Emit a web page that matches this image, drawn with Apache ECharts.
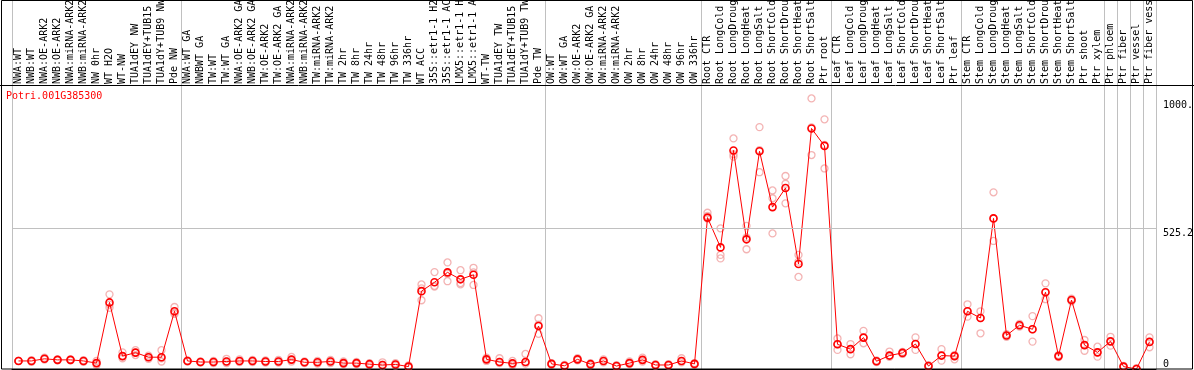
<!DOCTYPE html>
<html><head><meta charset="utf-8">
<script src="https://cdn.jsdelivr.net/npm/echarts@6/dist/echarts.min.js"></script>
<style>html,body{margin:0;padding:0;background:#fff}#c{width:1194px;height:370px}</style>
</head><body><div id="c"></div>
<script>
const chartTitle = 'Potri.001G385300';
const categories = [
 'NWA:WT','NWB:WT','NWA:OE-ARK2','NWB:OE-ARK2','NWA:miRNA-ARK2','NWB:miRNA-ARK2','NW 0hr','WT H2O','WT-NW','TUA1dEY NW','TUA1dEY+TUB15 NW','TUA1dY+TUB9 NW','Pde NW',
 'NWA:WT GA','NWBWT GA','TW:WT','TW:WT GA','NWA:OE-ARK2 GA','NWB:OE-ARK2 GA','TW:OE-ARK2','TW:OE-ARK2 GA','NWA:miRNA-ARK2','NWB:miRNA-ARK2','TW:miRNA-ARK2','TW:miRNA-ARK2','TW 2hr','TW 8hr','TW 24hr','TW 48hr','TW 96hr','TW 336hr','WT ACC','35S::etr1-1 H2O','35S::etr1-1 ACC','LMX5::etr1-1 H2O','LMX5::etr1-1 ACC','WT-TW','TUA1dEY TW','TUA1dEY+TUB15 TW','TUA1dY+TUB9 TW','Pde TW',
 'OW:WT','OW:WT GA','OW:OE-ARK2','OW:OE-ARK2 GA','OW:miRNA-ARK2','OW:miRNA-ARK2','OW 2hr','OW 8hr','OW 24hr','OW 48hr','OW 96hr','OW 336hr',
 'Root CTR','Root LongCold','Root LongDrought','Root LongHeat','Root LongSalt','Root ShortCold','Root ShortDrought','Root ShortHeat','Root ShortSalt','Ptr root',
 'Leaf CTR','Leaf LongCold','Leaf LongDrought','Leaf LongHeat','Leaf LongSalt','Leaf ShortCold','Leaf ShortDrought','Leaf ShortHeat','Leaf ShortSalt','Ptr leaf',
 'Stem CTR','Stem LongCold','Stem LongDrought','Stem LongHeat','Stem LongSalt','Stem ShortCold','Stem ShortDrought','Stem ShortHeat','Stem ShortSalt','Ptr shoot','Ptr xylem',
 'Ptr phloem','Ptr fiber','Ptr vessel','Ptr fiber vessel'
];
const meanValues = [
 30,30,38,34,34,30,22,248,48,61,44,44,215,
 30,26,26,28,30,30,28,28,35,25,25,28,22,22,18,15,17,9,290,323,360,334,351,36,26,21,26,160,
 19,12,36,18,30,11,22,34,15,15,30,19,
 564,453,814,483,811,603,674,391,896,831,
 92,74,117,29,50,60,93,11,50,48,
 215,190,561,125,163,148,286,48,257,89,62,
 103,9,0,101
];
const replicateA = [
 30,33,42,36,36,33,30,278,62,70,50,70,231,
 32,28,30,38,36,34,32,34,45,28,30,34,28,26,22,25,22,13,315,361,397,368,377,42,40,30,56,189,
 22,15,40,22,36,14,28,42,18,18,40,22,
 582,524,859,533,901,665,719,425,1008,930,
 114,93,142,32,65,64,118,14,74,52,
 241,215,658,130,168,197,319,52,262,108,83,
 120,12,3,118
];
const replicateB = [
 30,27,35,32,32,27,15,228,40,52,38,28,205,
 28,24,22,22,26,26,24,24,28,22,20,22,18,18,14,10,12,6,256,307,327,315,313,30,22,15,20,131,
 16,10,32,14,25,8,18,28,12,12,25,16,
 560,425,791,446,733,505,617,343,797,747,
 71,55,96,26,45,56,71,8,31,36,
 195,133,477,120,158,102,260,44,252,68,46,
 87,6,0,81
];
const replicateC = [
 30,30,38,34,34,30,22,240,48,61,44,40,210,
 30,26,26,28,28,30,28,28,35,25,25,28,22,22,18,15,17,9,300,310,355,320,360,36,26,21,26,165,
 19,12,36,18,30,11,22,34,15,15,30,19,
 570,412,800,490,815,636,690,400,900,835,
 92,74,117,29,50,60,93,11,50,48,
 215,190,561,125,163,148,286,48,257,89,62,
 103,9,0,101
];
const groupStarts = [0,13,41,53,63,73,84,85,86,87];
const yTickValues = [525.2, 1000];
const yTickLabels = ['525.2', '1000.'];
const yZeroValues = [0];
const yZeroLabels = ['0'];
const yMax = 1374.5;

const FONT = 'DejaVu Sans Mono';
const repData = [];
[replicateA, replicateB, replicateC].forEach(arr => arr.forEach((v, i) => repData.push([i, v])));

const chart = echarts.init(document.getElementById('c'), null, {renderer: 'canvas'});
chart.setOption({
  animation: false,
  backgroundColor: '#fff',
  title: {text: chartTitle, left: 6, top: 91, padding: 0,
    textStyle: {color: '#ff0000', fontSize: 10, fontWeight: 'normal', fontFamily: FONT}},
  grid: {left: 12, right: 38, top: 0, bottom: 1, containLabel: false, outerBoundsMode: 'none'},
  xAxis: [
    {type: 'category', data: categories, position: 'bottom', boundaryGap: true,
     axisLine: {show: true, lineStyle: {color: '#000', width: 1}},
     axisTick: {show: false}, axisLabel: {show: false},
     splitLine: {show: true, interval: (idx) => groupStarts.indexOf(idx) >= 0,
       lineStyle: {color: '#c0c0c0', width: 1}}},
    {type: 'category', data: categories, position: 'top', offset: -86, boundaryGap: true,
     axisLine: {show: false}, axisTick: {show: false}, splitLine: {show: false},
     axisLabel: {show: true, interval: 0, rotate: 90, margin: 2, color: '#000',
       fontSize: 10, fontFamily: FONT, hideOverlap: false}}
  ],
  yAxis: [
    {type: 'value', min: 0, max: yMax, position: 'right',
     axisLine: {show: false}, axisTick: {show: false}, splitLine: {show: false},
     axisLabel: {customValues: yTickValues, verticalAlign: 'top', margin: 7, color: '#000',
       fontSize: 10, fontFamily: FONT,
       formatter: (v) => { const k = yTickValues.findIndex(t => Math.abs(t - v) < 1e-6); return k >= 0 ? yTickLabels[k] : ''; }}},
    {type: 'value', min: 0, max: yMax, position: 'right',
     axisLine: {show: false}, axisTick: {show: false}, splitLine: {show: false},
     axisLabel: {customValues: yZeroValues, verticalAlign: 'bottom', margin: 7, color: '#000',
       fontSize: 10, fontFamily: FONT,
       formatter: (v) => { const k = yZeroValues.indexOf(v); return k >= 0 ? yZeroLabels[k] : ''; }}}
  ],
  graphic: [
    {type: 'rect', shape: {x: 1.5, y: 0.5, width: 1191, height: 368.5}, style: {fill: 'none', stroke: '#000', lineWidth: 1}, z: 100, silent: true},
    {type: 'line', shape: {x1: 0, y1: 85.5, x2: 1194, y2: 85.5}, style: {stroke: '#000', lineWidth: 1}, z: 100, silent: true}
  ],
  series: [
    {type: 'scatter', xAxisIndex: 0, yAxisIndex: 0, data: repData, symbol: 'circle', symbolSize: 7,
     itemStyle: {color: 'rgba(255,255,255,0)', borderColor: '#f0a0a0', borderWidth: 1.3}, z: 2, silent: true},
    {type: 'line', xAxisIndex: 0, yAxisIndex: 0, data: meanValues, symbol: 'circle', symbolSize: 7, showAllSymbol: true,
     lineStyle: {color: '#ff0000', width: 1},
     itemStyle: {color: 'rgba(255,255,255,0)', borderColor: '#ff0000', borderWidth: 1.6}, z: 3, silent: true,
     markLine: {silent: true, symbol: ['none', 'none'], label: {show: false}, animation: false,
       lineStyle: {color: '#c0c0c0', type: 'solid', width: 1}, data: [{yAxis: 525.2}]}}
  ]
});
</script>
</body></html>
